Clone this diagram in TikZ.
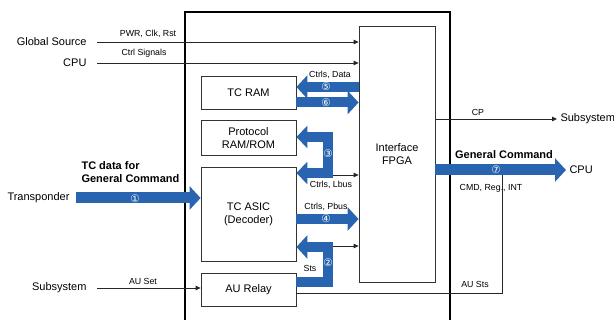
\documentclass[tikz,border=0pt]{standalone}
\usepackage{fontspec}
\setmainfont{Liberation Sans}
\newfontfamily\numfont{DejaVu Sans}
\usetikzlibrary{positioning}
\usetikzlibrary{arrows.meta}
\definecolor{cmdblue}{RGB}{40,100,175}

\begin{document}
\begin{tikzpicture}[x=1pt, y=-1pt,
blocknode/.style={rectangle, draw=black!80, line width=0.8pt, minimum width=95pt, align=center, font=\fontsize{11}{13}\selectfont},
fpganode/.style={rectangle, draw=black!80, line width=0.8pt, minimum width=76pt, minimum height=256pt, align=center, font=\fontsize{11}{13}\selectfont},
thinline/.style={draw=black!85, line width=0.8pt},
thinarrow/.style={thinline, -{Triangle[length=5pt,width=4.5pt]}},
fatarrow/.style={draw=cmdblue, line width=11pt, line join=miter, -{Triangle[length=11pt,width=23pt]}},
fatboth/.style={draw=cmdblue, line width=10pt, line join=miter, {Triangle[length=11pt,width=22pt]}-{Triangle[length=11pt,width=22pt]}},
bigtext/.style={font=\fontsize{11}{13}\selectfont},
boldtext/.style={font=\fontsize{11}{13}\selectfont\bfseries},
smalltext/.style={font=\fontsize{8.8}{10}\selectfont},
numtext/.style={text=white, inner sep=0pt, font=\numfont\fontsize{10.5}{10.5}\selectfont},
node distance=11pt
]
\useasboundingbox (0,0) rectangle (614,320);

%Frame
\draw[line width=1.6pt] (185,322) -- (185,12) -- (450,12) -- (450,322);

%Nodes
\node[blocknode, minimum height=33pt] (tcram)                      at (248.5,92.5) {TC RAM};
\node[blocknode, minimum height=35pt] (proto)  [below=of tcram]                    {Protocol\\RAM/ROM};
\node[blocknode, minimum height=94pt] (asic)   [below=of proto]                    {TC ASIC\\(Decoder)};
\node[blocknode, minimum height=33pt] (relay)  [below=of asic]                     {AU Relay};
\node[fpganode]                       (fpga)                       at (397,154)    {Interface\\FPGA};

\node[bigtext, anchor=east] (gsrc)   at (90,42)   {Global Source};
\node[bigtext, anchor=east] (cpuin)  at (90,63)   {CPU};
\node[bigtext, anchor=east] (tpdr)   at (73,198)  {Transponder};
\node[bigtext, anchor=east] (subin)  at (90,288)  {Subsystem};
\node[bigtext, anchor=west] (subout) at (557,119) {Subsystem};
\node[bigtext, anchor=west] (cpuout) at (566,170) {CPU};

\coordinate (d5) at (0,87);
\coordinate (d6) at (0,102.5);
\coordinate (b3t) at (328,137);
\coordinate (b3b) at (328,173);
\coordinate (lbus) at (333,175);
\coordinate (d4) at (0,219);
\coordinate (b2t) at (328,247);
\coordinate (b2b) at (328,282);
\coordinate (sts) at (333,246);
\coordinate (g7) at (0,170);
\coordinate (austs) at (502,293);

%Lines
\draw[thinarrow] ([xshift=7pt]gsrc.east) -- (gsrc.east -| fpga.west);
\draw[thinarrow] ([xshift=7pt]cpuin.east) -- (cpuin.east -| fpga.west);
\draw[thinarrow] ([xshift=7pt]subin.east) -- (subin.east -| relay.west);
\draw[thinarrow] (subout.west -| fpga.east) -- (subout.west);
\draw[thinarrow] (lbus) -- (lbus -| fpga.west);
\draw[thinarrow] (sts) -- (sts -| fpga.west);
\draw[thinline] (austs -| relay.east) -- (austs) -- (austs |- g7);

\draw[fatarrow] ([xshift=3pt]tpdr.east) -- (tpdr.east -| asic.west);
\draw[fatarrow, line width=10pt] (d5 -| fpga.west) -- (d5 -| tcram.east);
\draw[fatarrow, line width=10pt] (d6 -| tcram.east) -- (d6 -| fpga.west);
\draw[fatboth] (b3t -| proto.east) -- (b3t) -- (b3b) -- (b3b -| asic.east);
\draw[fatarrow, line width=10pt] (d4 -| asic.east) -- (d4 -| fpga.west);
\draw[fatarrow, line width=10pt] (b2b -| relay.east) -- (b2b) -- (b2t) -- (b2t -| asic.east);
\draw[fatarrow] (g7 -| fpga.east) -- (cpuout.west);

%Text
\node[smalltext] (pwr)  at (148,34)  {PWR, Clk, Rst};
\node[smalltext] (ctrl) at (144,53)  {Ctrl Signals};
\node[smalltext] (cdat) at (330,75)  {Ctrls, Data};
\node[smalltext] (clb)  at (331,185) {Ctrls, Lbus};
\node[smalltext] (cpb)  at (326,207) {Ctrls, Pbus};
\node[smalltext] (stsl) at (310,268) {Sts};
\node[smalltext] (cpl)  at (478,112) {CP};
\node[smalltext] (cmdl) at (491,188) {CMD, Reg., INT};
\node[smalltext] (ausl) at (475,284) {AU Sts};
\node[smalltext] (aset) at (143,281) {AU Set};
\node[boldtext, anchor=west, align=left] (tcd) at (78,172.5) {TC data for\\General Command};
\node[boldtext] (gcl) at (504,155) {General Command};

\node[numtext] (n1) at (135,199) {①};
\node[numtext] (n2) at (328,263) {②};
\node[numtext] (n3) at (328,154) {③};
\node[numtext] (n4) at (326,219) {④};
\node[numtext] (n5) at (326,87)  {⑤};
\node[numtext] (n6) at (326,102.5) {⑥};
\node[numtext] (n7) at (496,170) {⑦};
\end{tikzpicture}
\end{document}
